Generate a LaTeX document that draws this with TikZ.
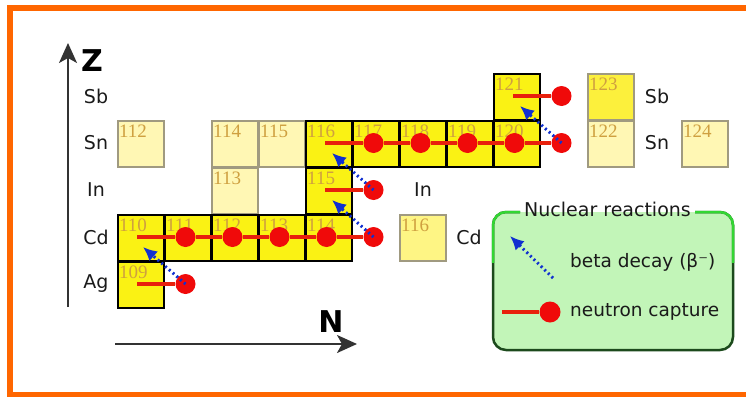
\documentclass[tikz,border=0pt]{standalone}
\usepackage{fontspec}
\setmainfont{DejaVu Sans}
\newfontfamily\numfont{Liberation Serif}
\usetikzlibrary{arrows.meta}
\definecolor{orng}{HTML}{FF6600}
\definecolor{cellY}{HTML}{FAF214}
\definecolor{paleY}{HTML}{FFF7B4}
\definecolor{midY}{HTML}{FCF03C}
\definecolor{cellG}{HTML}{A09A80}
\definecolor{numC}{HTML}{CFA040}
\definecolor{capR}{HTML}{E8200C}
\definecolor{dotR}{HTML}{F00A0A}
\definecolor{betaB}{HTML}{1030D0}
\definecolor{legF}{HTML}{C2F5B8}
\definecolor{legT}{HTML}{33D633}
\definecolor{legD}{HTML}{1C4A1C}
\definecolor{txt}{HTML}{1A1A1A}
\begin{document}
\begin{tikzpicture}[x=1pt,y=-1pt,
  hot/.style={draw=black, line width=2pt, fill=cellY, minimum size=46pt, inner sep=0pt, anchor=north west},
  cold/.style={draw=cellG, line width=1.6pt, fill=paleY, minimum size=46pt, inner sep=0pt, anchor=north west},
  num/.style={font=\numfont\fontsize{19}{19}\selectfont, text=numC, inner sep=0pt, anchor=north west, xshift=2pt, yshift=-5pt},
  elem/.style={font=\fontsize{19}{19}\selectfont, text=txt, inner sep=0pt},
  legtx/.style={font=\fontsize{18.5}{18.5}\selectfont, text=txt, inner sep=0pt},
  dot/.style={circle, fill=dotR, minimum size=20pt, inner sep=0pt},
  ncap/.style={draw=capR, line width=3.5pt},
  beta/.style={draw=betaB, line width=3pt, dash pattern=on 2pt off 3pt, -{Latex[length=14pt,width=13pt]}},
  axis/.style={draw=black!80, line width=2pt, -{Stealth[length=20pt,width=18pt,inset=5pt]}},
  axl/.style={font=\bfseries\fontsize{30}{30}\selectfont, inner sep=0pt}]
\useasboundingbox (0,0) rectangle (746,396);
% frame
\draw[orng, line width=6pt] (10,8) rectangle (770,394.5);

% axes
\coordinate (z0) at (68,307);
\coordinate (z1) at (68,43);
\draw[axis] (z0) -- (z1);
\node[axl] (zl) at (92,61) {Z};
\coordinate (n0) at (115,344);
\coordinate (n1) at (357,344);
\draw[axis] (n0) -- (n1);
\node[axl] (nl) at (331,322) {N};

% element labels
\node[elem] (lSb) at (96,96) {Sb};
\node[elem] (lSn) at (96,143) {Sn};
\node[elem] (lIn) at (96,190) {In};
\node[elem] (lCd) at (96,237) {Cd};
\node[elem] (lAg) at (96,284) {Ag};
\node[elem] (rSb) at (657,96) {Sb};
\node[elem] (rSn) at (657,143) {Sn};
\node[elem] (rIn) at (423,190) {In};
\node[elem] (rCd) at (469,237) {Cd};

% pale cells
\node[cold] (sn112) at (117,120) {};
\node[num] at (sn112.north west) {112};
\node[cold] (sn114) at (211,120) {};
\node[num] at (sn114.north west) {114};
\node[cold] (sn115) at (258,120) {};
\node[num] at (sn115.north west) {115};
\node[cold] (in113) at (211,167) {};
\node[num] at (in113.north west) {113};
\node[cold, fill=paleY!70!cellY] (cd116) at (399,214) {};
\node[num] at (cd116.north west) {116};
\node[cold] (sn122) at (587,120) {};
\node[num] at (sn122.north west) {122};
\node[cold] (sn124) at (681,120) {};
\node[num] at (sn124.north west) {124};
\node[cold, fill=midY] (sb123) at (587,73) {};
\node[num] at (sb123.north west) {123};

% path cells
\node[hot] (ag109) at (117,261) {};
\node[hot] (cd110) at (117,214) {};
\node[hot] (cd111) at (164,214) {};
\node[hot] (cd112) at (211,214) {};
\node[hot] (cd113) at (258,214) {};
\node[hot] (cd114) at (305,214) {};
\node[hot] (in115) at (305,167) {};
\node[hot] (sn116) at (305,120) {};
\node[hot] (sn117) at (352,120) {};
\node[hot] (sn118) at (399,120) {};
\node[hot] (sn119) at (446,120) {};
\node[hot] (sn120) at (493,120) {};
\node[hot] (sb121) at (493,73) {};
\foreach \c/\t in {ag109/109,cd110/110,cd111/111,cd112/112,cd113/113,cd114/114,in115/115,sn116/116,sn117/117,sn118/118,sn119/119,sn120/120,sb121/121}
  \node[num] at (\c.north west) {\t};

% capture start points
\coordinate (sAg) at (137,284);
\coordinate (sCd) at (137,237);
\coordinate (sIn) at (325,190);
\coordinate (sSn) at (325,143);
\coordinate (sSb) at (513,96);

% capture products
\node[dot] (pAg110) at (185.5,284) {};
\node[dot] (pCd111) at (185.5,237) {};
\node[dot] (pCd112) at (232.5,237) {};
\node[dot] (pCd113) at (279.5,237) {};
\node[dot] (pCd114) at (326.5,237) {};
\node[dot] (pCd115) at (373.5,237) {};
\node[dot] (pIn116) at (373.5,190) {};
\node[dot] (pSn117) at (373.5,143) {};
\node[dot] (pSn118) at (420.5,143) {};
\node[dot] (pSn119) at (467.5,143) {};
\node[dot] (pSn120) at (514.5,143) {};
\node[dot] (pSn121) at (561.5,143) {};
\node[dot] (pSb122) at (561.5,96) {};

\draw[ncap] (sAg) -- (pAg110);
\draw[ncap] (sCd) -- (pCd111) -- (pCd112) -- (pCd113) -- (pCd114) -- (pCd115);
\draw[ncap] (sIn) -- (pIn116);
\draw[ncap] (sSn) -- (pSn117) -- (pSn118) -- (pSn119) -- (pSn120) -- (pSn121);
\draw[ncap] (sSb) -- (pSb122);

% beta decays
\coordinate (bCd110) at (143,247);
\coordinate (bIn115) at (332,200);
\coordinate (bSn116) at (332,153);
\coordinate (bSb121) at (520,106);
\draw[beta] (pAg110.center) -- (bCd110);
\draw[beta] (pCd115.center) -- (bIn115);
\draw[beta] (pIn116.center) -- (bSn116);
\draw[beta] (pSn121.center) -- (bSb121);

% legend
\fill[legF, rounded corners=13pt] (493,212) rectangle (733,350);
\draw[legD, line width=2.5pt, rounded corners=13pt] (695,212) -- (733,212) -- (733,350) -- (493,350) -- (493,212) -- (520,212);
\begin{scope}
\clip (480,200) rectangle (746,262);
\draw[legT, line width=2.5pt, rounded corners=13pt] (695,212) -- (733,212) -- (733,350) -- (493,350) -- (493,212) -- (520,212);
\end{scope}
\node[legtx, font=\fontsize{19}{19}\selectfont, anchor=base] (legt) at (607.5,216) {Nuclear reactions};
\coordinate (lb0) at (553,278);
\coordinate (lb1) at (510,236);
\draw[beta] (lb0) -- (lb1);
\node[legtx, anchor=west] (lbt) at (570,262) {beta decay (β⁻)};
\coordinate (lc0) at (502,312);
\node[dot, minimum size=21pt] (lcd) at (550,312) {};
\draw[ncap] (lc0) -- (lcd);
\node[legtx, anchor=west] (lct) at (570,312) {neutron capture};
\end{tikzpicture}
\end{document}
